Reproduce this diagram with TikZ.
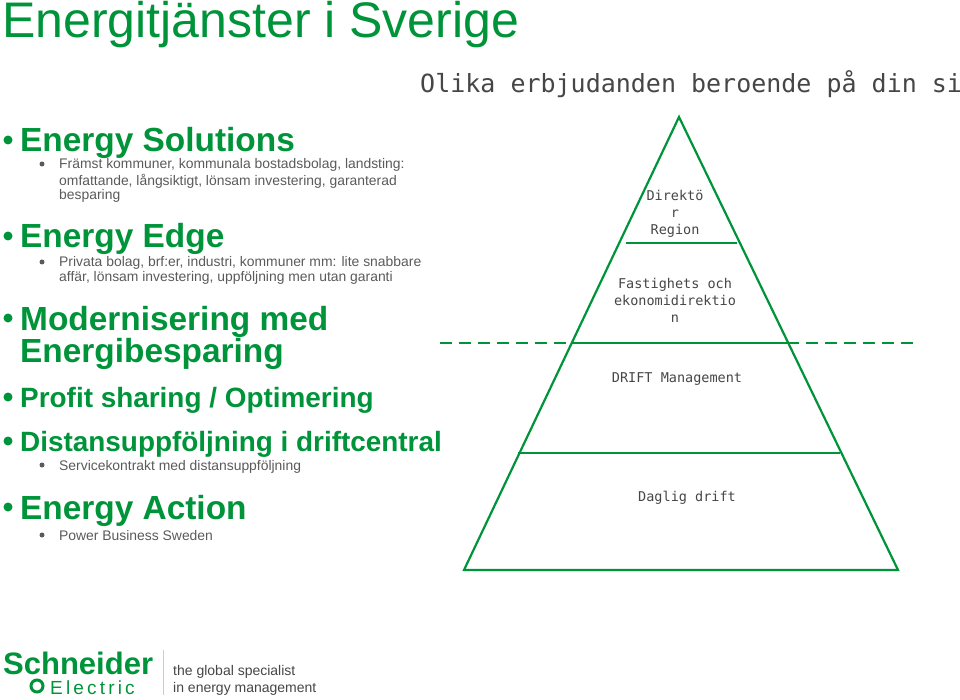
\documentclass[tikz,border=0pt]{standalone}
\usepackage{fontspec}
\setmainfont{Liberation Sans}
\newfontfamily\monof{DejaVu Sans Mono}
\definecolor{sgreen}{RGB}{0,148,58}
\definecolor{tgray}{RGB}{90,90,90}
\definecolor{mgray}{RGB}{70,70,70}
\begin{document}
\begin{tikzpicture}[x=1pt,y=-1pt,
  head/.style={anchor=base west,inner sep=0pt,text=sgreen,font=\bfseries\fontsize{33.4}{35}\selectfont},
  midhead/.style={anchor=base west,inner sep=0pt,text=sgreen,font=\bfseries\fontsize{27.9}{30}\selectfont},
  sub/.style={anchor=base west,inner sep=0pt,text=tgray,font=\fontsize{13.9}{15}\selectfont},
  bigdot/.style={fill=sgreen,circle,inner sep=0pt,minimum size=9pt},
  smalldot/.style={fill=tgray,circle,inner sep=0pt,minimum size=5pt},
  pyr/.style={draw=sgreen,line width=2.2pt},
  plab/.style={text=mgray,font=\monof\fontsize{13.5}{17}\selectfont,align=center,inner sep=0pt}]
\useasboundingbox (0,0) rectangle (960,700);
\clip (0,0) rectangle (960,700);
\node[anchor=base west,inner sep=0pt,text=sgreen,font=\fontsize{50}{52}\selectfont] (title) at (2,38) {Energitjänster i Sverige};
\node[anchor=base west,inner sep=0pt,text=mgray,font=\monof\fontsize{25}{26}\selectfont] (subt) at (420,93) {Olika erbjudanden beroende på din si};
% left list
\node[bigdot] (d1) at (8,140) {};
\node[head] (h1) at (20,152) {Energy Solutions};
\node[smalldot] (s1) at (42,164) {};
\node[sub] (t1) at (59,169) {Främst kommuner, kommunala bostadsbolag, landsting:};
\node[sub] (t1b) at (59,186) {omfattande, långsiktigt, lönsam investering, garanterad};
\node[sub] (t1c) at (59,200) {besparing};
\node[bigdot] (d2) at (8,236) {};
\node[head] (h2) at (20,248) {Energy Edge};
\node[smalldot] (s2) at (42,262) {};
\node[sub] (t2) at (59,267) {Privata bolag, brf:er, industri, kommuner mm: lite snabbare};
\node[sub] (t2b) at (59,282) {affär, lönsam investering, uppföljning men utan garanti};
\node[bigdot] (d3) at (8,318) {};
\node[head] (h3) at (20,330) {Modernisering med};
\node[head] (h3b) at (20,362) {Energibesparing};
\node[bigdot] (d4) at (8,397) {};
\node[midhead] (h4) at (20,407) {Profit sharing / Optimering};
\node[bigdot] (d5) at (8,441) {};
\node[midhead] (h5) at (20,451) {Distansuppföljning i driftcentral};
\node[smalldot] (s5) at (42,465) {};
\node[sub] (t5) at (59,470) {Servicekontrakt med distansuppföljning};
\node[bigdot] (d6) at (8,507) {};
\node[head] (h6) at (20,519) {Energy Action};
\node[smalldot] (s6) at (42,535) {};
\node[sub] (t6) at (59,540) {Power Business Sweden};
% pyramid
\coordinate (apex) at (679,117);
\coordinate (bl) at (464,570);
\coordinate (br) at (898,570);
\draw[pyr,line join=miter] (apex) -- (bl) -- (br) -- cycle;
\coordinate (l1a) at (626,243); \coordinate (l1b) at (737,243);
\coordinate (l2a) at (571,343); \coordinate (l2b) at (787,343);
\coordinate (l3a) at (518,453); \coordinate (l3b) at (840,453);
\coordinate (da) at (440,343); \coordinate (db) at (918,343);
\draw[pyr] (l1a) -- (l1b);
\draw[pyr] (l2a) -- (l2b);
\draw[pyr] (l3a) -- (l3b);
\draw[pyr,dash pattern=on 12pt off 7pt] (da) -- (l2a);
\draw[pyr,dash pattern=on 12pt off 7pt] (l2b) -- (db);
\node[plab] (p1) at (675,214) {Direktö\\r\\Region};
\node[plab] (p2) at (675,300) {Fastighets och\\ekonomidirektio\\n};
\node[plab] (p3) at (677,379) {DRIFT Management};
\node[plab] (p4) at (687,498) {Daglig drift};
% logo
\node[anchor=base west,inner sep=0pt,text=sgreen,font=\bfseries\fontsize{31}{32}\selectfont] (lg1) at (3,674) {Schneider};
\node[anchor=base west,inner sep=0pt,text=sgreen,font=\fontsize{19}{22}\selectfont] (lg2) at (50,694) {E\,l\,e\,c\,t\,r\,i\,c};
\node[circle,draw=sgreen,line width=3pt,minimum size=12pt,inner sep=0pt] (lg3) at (37,686) {};
\draw[gray!40] (163,650) -- (163,695);
\node[anchor=base west,inner sep=0pt,text=mgray,font=\fontsize{14}{16}\selectfont] (lg4) at (173,675) {the global specialist};
\node[anchor=base west,inner sep=0pt,text=mgray,font=\fontsize{14}{16}\selectfont] (lg5) at (173,692) {in energy management};
\end{tikzpicture}
\end{document}
